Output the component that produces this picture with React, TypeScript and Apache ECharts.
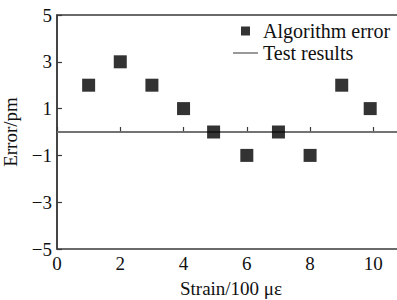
import React, { useEffect, useRef } from "react";
import * as echarts from "echarts";

const strain = [1, 2, 3, 4, 4.95, 6, 7, 8, 9, 9.9];
const algorithmError = [2, 3, 2, 1, 0, -1, 0, -1, 2, 1];
const testLineX = [0, 11];
const testLineY = [0, 0];
const xTicks = [0, 2, 4, 6, 8, 10];
const yTicks = [-5, -3, -1, 1, 3, 5];

const FONT = "Liberation Serif";
const AXIS = "#3a3a3a";
const FS = 19;

export default function App() {
  const ref = useRef<HTMLDivElement>(null);
  useEffect(() => {
    if (!ref.current) return;
    const chart = echarts.init(ref.current, undefined, { renderer: "svg" });
    const minus = (v: number) => String(v).replace("-", "\u2212");
    chart.setOption({
      animation: false,
      backgroundColor: "#fff",
      textStyle: { fontFamily: FONT },
      grid: {
        left: 57,
        top: 15,
        bottom: 51,
        right: -8,
        show: true,
        borderColor: AXIS,
        borderWidth: 1.5,
        outerBoundsMode: "none",
        containLabel: false,
      },
      legend: [
        {
          data: [{ name: "Algorithm error", icon: "rect" }],
          left: 241,
          top: 21,
          itemWidth: 9,
          itemHeight: 9,
          padding: 0,
          textStyle: { fontFamily: FONT, fontSize: 20, color: "#111", padding: [0, 0, 0, 8] },
        },
        {
          data: [{ name: "Test results", icon: "path://M0,0L25,0L25,1.5L0,1.5Z" }],
          left: 233,
          top: 43,
          itemWidth: 25,
          itemHeight: 1.5,
          padding: 0,
          textStyle: { fontFamily: FONT, fontSize: 20, color: "#111" },
        },
      ],
      xAxis: {
        type: "value",
        min: 0,
        max: 11,
        interval: 2,
        name: "Strain/100 \u03bc\u03b5",
        nameLocation: "middle",
        nameGap: 30,
        nameTextStyle: { fontFamily: FONT, fontSize: FS, color: "#111" },
        axisLine: { show: true, lineStyle: { color: AXIS, width: 1.5 } },
        axisTick: { show: true, inside: true, length: 5, lineStyle: { color: AXIS, width: 1.2 } },
        splitLine: { show: false },
        axisLabel: {
          fontFamily: FONT,
          fontSize: FS,
          color: "#111",
          margin: 5,
          formatter: (v: number) => (xTicks.includes(v) ? String(v) : ""),
        },
      },
      yAxis: {
        type: "value",
        min: -5,
        max: 5,
        interval: 2,
        name: "Error/pm",
        nameLocation: "middle",
        nameGap: 37,
        nameTextStyle: { fontFamily: FONT, fontSize: FS, color: "#111" },
        axisLine: { show: true, lineStyle: { color: AXIS, width: 1.5 } },
        axisTick: { show: true, inside: true, length: 5, lineStyle: { color: AXIS, width: 1.2 } },
        splitLine: { show: false },
        axisLabel: {
          fontFamily: FONT,
          fontSize: FS,
          color: "#111",
          margin: 5,
          formatter: (v: number) => (yTicks.includes(v) ? minus(v) : ""),
        },
      },
      series: [
        {
          name: "Test results",
          type: "line",
          data: testLineX.map((x, i) => [x, testLineY[i]]),
          symbol: "none",
          lineStyle: { color: "#777", width: 1.5 },
          itemStyle: { color: "#777" },
          z: 1,
        },
        {
          name: "Algorithm error",
          type: "scatter",
          data: strain.map((x, i) => [x, algorithmError[i]]),
          symbol: "rect",
          symbolSize: 13,
          itemStyle: { color: "#000" },
          z: 3,
        },
      ],
    });
    return () => chart.dispose();
  }, []);
  return (
    <div
      ref={ref}
      style={{ position: "absolute", left: 0, top: 0, width: 397, height: 300, overflow: "hidden" }}
    />
  );
}
